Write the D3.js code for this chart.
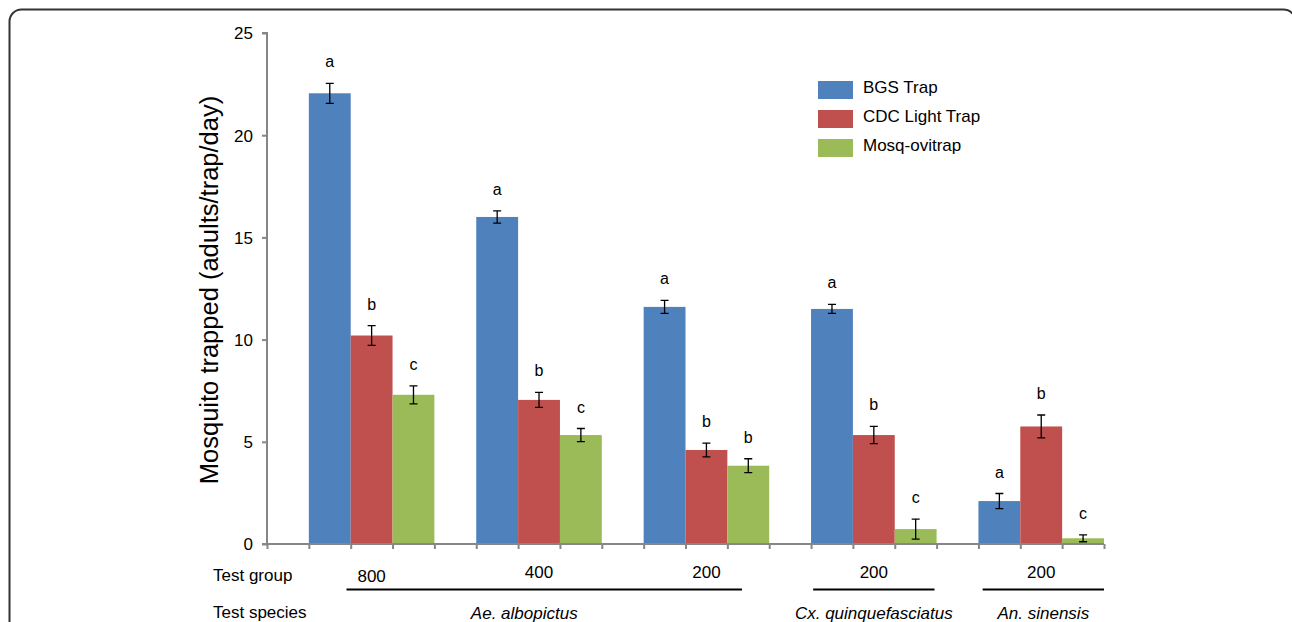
<!DOCTYPE html>
<html lang="en">
<head>
    <meta charset="UTF-8">
    <title>Mosquito trapped</title>
    <script src="https://d3js.org/d3.v7.min.js"></script>
    <style>
        * { margin: 0; padding: 0; box-sizing: border-box; }
        body { background: #fff; overflow: hidden; }
        svg text { font-family: "Liberation Sans", Arial, sans-serif; fill: #000; }
    </style>
</head>
<body>
    <div id="chart"></div>

    <script>
        // Dados
        const groups = ["800", "400", "200", "200", "200"];
        const series = ["BGS Trap", "CDC Light Trap", "Mosq-ovitrap"];
        const colors = ["#4F81BD", "#C0504D", "#9BBB59"];

        const bgsValues = [22.05, 16.0, 11.6, 11.5, 2.1];
        const cdcValues = [10.2, 7.05, 4.6, 5.33, 5.75];
        const ovitrapValues = [7.3, 5.33, 3.83, 0.73, 0.28];

        const bgsErrors = [0.49, 0.3, 0.32, 0.22, 0.37];
        const cdcErrors = [0.48, 0.37, 0.34, 0.42, 0.56];
        const ovitrapErrors = [0.44, 0.32, 0.34, 0.49, 0.17];

        const bgsLetters = ["a", "a", "a", "a", "a"];
        const cdcLetters = ["b", "b", "b", "b", "b"];
        const ovitrapLetters = ["c", "c", "b", "c", "c"];

        const yTicks = [0, 5, 10, 15, 20, 25];

        // species under-lines, in slot units (4 slots per group)
        const speciesNames = ["Ae. albopictus", "Cx. quinquefasciatus", "An. sinensis"];
        const speciesStart = [1.9, 13.05, 17.1];
        const speciesEnd = [11.35, 15.95, 20];

        const allValues = [bgsValues, cdcValues, ovitrapValues];
        const allErrors = [bgsErrors, cdcErrors, ovitrapErrors];
        const allLetters = [bgsLetters, cdcLetters, ovitrapLetters];

        const width = 1292, height = 622;
        const svg = d3.select("#chart").append("svg")
            .attr("width", width)
            .attr("height", height);

        // moldura arredondada
        svg.append("rect")
            .attr("x", 9.5).attr("y", 9.5)
            .attr("width", 1286).attr("height", 700)
            .attr("rx", 12)
            .attr("fill", "none")
            .attr("stroke", "#333")
            .attr("stroke-width", 2);

        const mLeft = 267, mRight = 1104, mTop = 33, mBottom = 544;

        const y = d3.scaleLinear().domain([0, 25]).range([mBottom, mTop]);
        const x0 = d3.scaleBand().domain(d3.range(groups.length)).range([mLeft, mRight]);
        const x1 = d3.scaleBand().domain([-1, 0, 1, 2]).range([0, x0.bandwidth()]);
        const slot = d3.scaleLinear().domain([0, groups.length * 4]).range([mLeft, mRight]);

        // barras
        series.forEach((s, si) => {
            const g = svg.append("g");
            g.selectAll("rect")
                .data(allValues[si])
                .join("rect")
                .attr("x", (d, i) => x0(i) + x1(si))
                .attr("y", d => y(d))
                .attr("width", x1.bandwidth())
                .attr("height", d => y(0) - y(d))
                .attr("fill", colors[si]);

            // barras de erro
            const cx = i => x0(i) + x1(si) + x1.bandwidth() / 2;
            const errs = allErrors[si];
            g.selectAll("path.err")
                .data(allValues[si])
                .join("path")
                .attr("class", "err")
                .attr("d", (d, i) => {
                    const t = y(d + errs[i]), b = y(d - errs[i]), c = cx(i);
                    return `M${c},${t}V${b}M${c - 4},${t}H${c + 4}M${c - 4},${b}H${c + 4}`;
                })
                .attr("stroke", "#000")
                .attr("stroke-width", 1.3)
                .attr("fill", "none");

            // letras de significância
            g.selectAll("text")
                .data(allValues[si])
                .join("text")
                .attr("x", (d, i) => cx(i))
                .attr("y", (d, i) => y(d + errs[i]) - 16)
                .attr("text-anchor", "middle")
                .style("font-size", "16px")
                .text((d, i) => allLetters[si][i]);
        });

        // eixo Y
        const yAxis = svg.append("g")
            .attr("transform", `translate(${mLeft},0)`)
            .call(d3.axisLeft(y).tickValues(yTicks).tickSize(5).tickPadding(9));
        yAxis.selectAll("line, path").attr("stroke", "#868686").attr("stroke-width", 2);
        yAxis.select(".domain").attr("d", `M-5,${mTop}H0V${mBottom}H-5`);
        yAxis.selectAll("text").style("font-size", "17px").attr("dy", "0.35em");

        // eixo X (ticks em cada borda de barra)
        const xAxis = svg.append("g")
            .attr("transform", `translate(0,${mBottom})`)
            .call(d3.axisBottom(slot).tickValues(d3.range(groups.length * 4 + 1)).tickSize(5).tickFormat(""));
        xAxis.selectAll("line, path").attr("stroke", "#868686").attr("stroke-width", 2);
        xAxis.select(".domain").attr("d", `M${mLeft},0H${mRight}`);

        svg.append("text")
            .attr("transform", "translate(218,290) rotate(-90)")
            .attr("text-anchor", "middle")
            .style("font-size", "25.5px")
            .text("Mosquito trapped (adults/trap/day)");

        // rótulos inferiores
        svg.append("text").attr("x", 213).attr("y", 581).style("font-size", "17px").text("Test group");
        svg.append("text").attr("x", 213).attr("y", 618).style("font-size", "17px").text("Test species");

        svg.selectAll("text.grp")
            .data(groups)
            .join("text")
            .attr("class", "grp")
            .attr("x", (d, i) => x0(i) + x1(0) + 1.5 * x1.bandwidth())
            .attr("y", (d, i) => i === 0 ? 582 : 578)
            .attr("text-anchor", "middle")
            .style("font-size", "17px")
            .text(d => d);

        speciesNames.forEach((n, i) => {
            svg.append("line")
                .attr("x1", slot(speciesStart[i])).attr("x2", slot(speciesEnd[i]))
                .attr("y1", 589.5).attr("y2", 589.5)
                .attr("stroke", "#000").attr("stroke-width", 2);
            svg.append("text")
                .attr("x", (slot(speciesStart[i]) + slot(speciesEnd[i])) / 2 + (i === 0 ? -20 : 0))
                .attr("y", 619)
                .attr("text-anchor", "middle")
                .style("font-size", "17px")
                .style("font-style", "italic")
                .text(n);
        });

        // legenda
        const legend = svg.append("g").attr("transform", "translate(818,81)");
        series.forEach((s, i) => {
            legend.append("rect")
                .attr("x", 0).attr("y", i * 29)
                .attr("width", 35).attr("height", 18)
                .attr("fill", colors[i]);
            legend.append("text")
                .attr("x", 45).attr("y", i * 29 + 11.5)
                .style("font-size", "17px")
                .text(s);
        });
    </script>
</body>
</html>
